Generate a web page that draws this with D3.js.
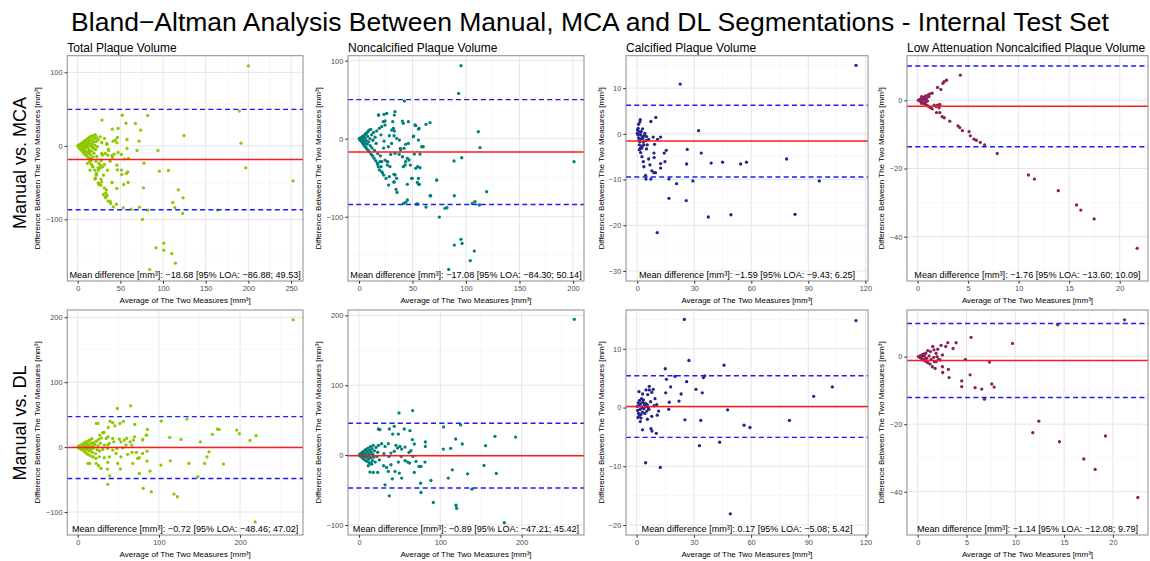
<!DOCTYPE html>
<html>
<head>
<meta charset="utf-8">
<script src="https://cdn.jsdelivr.net/npm/d3@7"></script>
<style>
  body { margin: 0; background: #fff; }
  svg  { font-family: "Liberation Sans", Arial, Helvetica, sans-serif; }
</style>
</head>
<body>
<svg id="chart"></svg>
<script>
// ── Data ────────────────────────────────────────────────────────────────────
const figTitle    = "Bland\u2212Altman Analysis Between Manual, MCA and DL Segmentations - Internal Test Set";
const rowLabels   = ["Manual vs. MCA", "Manual vs. DL"];
const panelTitles = ["Total Plaque Volume", "Noncalcified Plaque Volume",
                     "Calcified Plaque Volume", "Low Attenuation Noncalcified Plaque Volume"];

// mean difference and 95% limits of agreement, [row][column]
const meanDiff = [[-18.68, -17.08, -1.59, -1.76], [-0.72, -0.89, 0.17, -1.14]];
const loaLower = [[-86.88, -84.30, -9.43, -13.60], [-48.46, -47.21, -5.08, -12.08]];
const loaUpper = [[49.53, 50.14, 6.25, 10.09], [47.02, 45.42, 5.42, 9.79]];

const xTicks = [
  [[0, 50, 100, 150, 200, 250], [0, 50, 100, 150, 200], [0, 30, 60, 90, 120], [0, 5, 10, 15, 20]],
  [[0, 100, 200], [0, 100, 200], [0, 30, 60, 90, 120], [0, 5, 10, 15, 20]]
];
const yTicks = [
  [[-100, 0, 100], [-100, 0, 100], [-30, -20, -10, 0, 10], [-40, -20, 0]],
  [[-100, 0, 100, 200], [-100, 0, 100, 200], [-20, -10, 0, 10], [-40, -20, 0]]
];
// axis limits
const xLimits = [
  [[-12.2, 264], [-10.3, 210.3], [-5.9, 121.4], [-1.05, 22.8]],
  [[-12.8, 277.5], [-13.5, 276.7], [-5.6, 121.3], [-1.1, 23.6]]
];
const yLimits = [
  [[-183.9, 122.6], [-182.4, 106.4], [-32.2, 17.1], [-53, 13.1]],
  [[-135.4, 211.2], [-114.4, 207.6], [-21.7, 16.6], [-52.8, 13.8]]
];

// [average, difference] pairs
const tpvMca = [
  [0.3,0],[0.6,-0.8],[0.8,0.6],[1.2,-1.5],[1.5,1],[1.8,-0.3],[2.2,-3],[2.5,2],[2.8,0.5],[3.2,-4.5],
  [3.5,-1.5],[3.8,3],[4.2,1],[4.5,-6],[4.8,-2.5],[5.2,4],[5.5,0],[5.8,-8],[6.2,2],[6.5,-4],
  [6.8,5.5],[7.2,-10],[7.5,-1],[7.8,3.5],[8.2,-6],[8.5,7],[8.8,-12],[9.2,0.5],[9.5,-3],[9.8,5],
  [10.2,-8],[10.5,8.5],[10.8,-14],[11.2,2],[11.5,-1.5],[11.8,10],[12.2,-10],[12.5,-16],[12.8,4],[13.2,-5],
  [13.5,11],[13.8,-18],[14.2,7],[14.5,0],[14.8,-12],[15.2,12],[15.5,-20],[15.8,3],[16.2,-7],[16.6,13],
  [17,8],[17.4,-2],[17.8,-15],[18.2,14],[18.6,5],[19,-10],[19.5,10],[20,1],[20.5,15],[21,-5],
  [21.5,6],[22,11],[23,-1],[24,8],
  [14,-21.8],[16,-25.3],[17.9,-28.6],[19.9,-33.1],[21.8,-37.6],[20.6,-44],[24.1,-50.3],[25.3,-52],
  [27.3,-45.3],[30.1,-39.9],[26.5,-26.3],[29.3,-28.6],[24.9,-24],[26.8,-29.9],[24.1,-33.1],[29.3,-12.7],
  [27.3,-19.5],[30.1,-66.1],[32.1,-69.4],[35.6,-75.2],[38.7,-78.4],[32.9,-64],[31.2,-57.1],[34.4,1.9],
  [36.4,-6.8],[35.2,-12.7],[40.8,-15.7],[42.8,-11.2],[44.2,7.8],[45.9,4.1],[45.9,-26.3],[51.3,-33],
  [200,108.8],[189.5,47.2],[191.4,3.6],[196.9,-30],[252.5,-47.6],[124.6,14],[82,41.3],[52.3,41.7],
  [28.5,35],[67.6,30.4],[47.3,23.6],[40.6,22.7],[56.6,30.8],[73.8,21.3],[71.9,6.3],[41.4,6.3],
  [46.5,11.3],[57.8,8.6],[57.8,-3.6],[69.5,-6.3],[94.1,-6.3],[47.3,-9],[51.2,-11.8],[54.7,-17.7],
  [40.2,-13.2],[37.9,-20.9],[59.4,-17.2],[77.7,-23.6],[95.7,-34.5],[106.3,-33.6],[123.4,-70.7],[117.9,-59.9],
  [111.3,-77.1],[113.7,-83.9],[123,-92],[77,-57.1],[75.8,-100.2],[82,-87.5],[72.3,-83.4],[62.5,-86.2],
  [53.5,-84.4],[45.3,-79.4],[41.8,-83],[164,-87.5],[100.8,-132.4],[100.8,-142],[91.8,-138.8],[110.2,-146.5],
  [114.5,-159.6],[84.4,-168.3],[59,-49.9],[53.9,-52.6],[45.7,-58],[58.6,-35.4],[57,-37.6],[46.5,-32.7],
  [51.6,-39],[40.2,-49.9],[33.6,-59.9],[28.1,-49],[27,-53.5],[25,-52.6],[20.3,-45.4],[34.4,-67.6],
  [32.8,-70.7],[37.9,-75.3],[34.8,-33.1],[31.3,-25.4],[27.7,-19.5],[23.8,-29.9],[21.5,-20.9],[22.3,-14.5],
  [28.1,-10.4],[32.4,-10.4],[35.9,-4.5],[34,3.2],[28.1,4.5],[31.3,10],[26.2,12.2],[20.3,14.5],
  [14.5,12.2],[11.3,7.7],[16.4,0.9],[19.1,-3.6],[13.7,-8.2],[16,-17.2],[17.6,-28.6],[14.5,-33.1],
  [21.9,-39.9],[11.3,-24]
];

const ncpMca = [
  [0.3,0],[0.6,0.5],[1,-1],[1.3,-2],[1.5,1],[2,-3],[2.3,0],[2.6,2],[3,-5],[3.3,-1],
  [3.6,3],[4,-7],[4.3,-3],[4.6,4],[5,-9],[5.3,1],[5.6,-5],[6,6],[6.3,-11],[6.6,-2],
  [7,7],[7.3,-13],[7.6,-7],[8,3],[8.3,9],[8.6,-15],[9,-4],[9.4,11],[9.8,-17],[10.2,0],
  [10.6,-9],[11,12],[11.4,-20],[11.8,5],[12.2,-12],[12.6,-22],[13,-2],[13.5,8],[14,-25],[14.5,-15],
  [15,2],[15.5,-28],[16,-6],[16.5,10],[17,-31],[17.5,-19],[18,-36],[19,-40],[20,-22],[20.5,5],
  [22,-44],[23,-12],
  [95.3,93.6],[93.1,58.1],[42.4,48.3],[111.5,9],[113.1,-11.5],[96,-24.4],[88.8,-28.6],[201,-29.5],
  [119.3,-67.9],[72.6,-53],[66.4,-73.1],[89.1,-73.1],[108.4,-80.8],[105.9,-82.9],[112.5,-85],[80.4,-89.3],
  [75.1,-100.4],[62.6,-87.6],[53.6,-83.8],[45.2,-78.6],[41.7,-82.9],[95.3,-129],[96.3,-134.2],[89.1,-136.3],
  [107.8,-144],[104,-156.4],[83.8,-167.5],[66.4,20.5],[62.6,18.4],[56.1,13.2],[53,16.7],[51.1,3.4],
  [55.5,-1.7],[58.6,-10.3],[46.1,-6],[38.6,-12.4],[40.5,22.6],[41.4,19.7],[33.6,34.6],[33,30.3],
  [25.9,32.5],[23.4,31.2],[18.4,30.3],[24.3,17.5],[21.2,15.4],[30.5,11.1],[28.3,3.8],[32.7,3.8],
  [23.4,-3],[30.5,-6],[33.6,-18.8],[29.6,-20.1],[24.3,-27.4],[21.2,-29.5],[26.2,-29.5],[26.5,-33.8],
  [21.2,-42.3],[23.1,-46.6],[25.2,-50.9],[32.7,-45.7],[32.7,-55.1],[34.6,-65],[35.5,-68.8],[41.4,-35.9],
  [43.6,-29.5],[48,-33.8],[53,-38],[57,-37.2],[49.2,-50.9],[55.5,-50.9],[54.5,-56],[56.4,-58.5],
  [51.7,-19.7],[57,-19.7],[60,-10.3],[27.4,-10.3],[24.3,22.7],[22.7,21.8],[31.5,21.8],[32.1,13.3],
  [33,9.9],[35.2,0.5],[37.7,-1.7],[46.1,21.8],[52.3,17.6],[55.5,12.4],[50.8,2.6],[43.6,-7.2],
  [42.1,-12.3],[39,-14.5],[37.5,-20],[40.6,-23.1],[45.2,-25.1],[43.1,-33.7],[46.7,-27.3],[54.8,-35.9],
  [49.8,-50.8],[45.2,-58.5],[55.7,-58.5],[72.7,-53],[67,-73.1],[33.7,-46.5],[35.2,-50.8],[32.7,-55.9],
  [27.7,-59.4],[28.3,-48.7],[28.9,-35.9],[26.8,-29.5],[19.6,-29.5],[17.4,-32.8],[20.6,-35.9],[43.7,-81.5],
  [54.8,-83.7],[82.2,-88.5],[18.1,30.4],[19,13.3]
];

const cpMca = [
  [115.1,15],[22.6,10.9],[32.3,0.7],[33.7,-4.2],[26.3,-3.4],[26,-6.6],[38.9,-6.4],[44.9,-6.2],
  [54.4,-6.6],[57.5,-6.2],[78.6,-5.5],[95.8,-10.3],[29.3,-10.3],[20.7,-10.9],[16.7,-9.9],[16.7,-14.1],
  [25.8,-14.6],[37.4,-18.2],[49.3,-17.7],[83,-17.6],[10.5,-21.6],[9.8,3.6],[7.2,2.7],[12.3,-0.7],
  [10.7,-1.2],[8.4,-0.7],[9.1,-2.3],[15.3,-3.6],[14.2,-4.2],[14.6,-6.1],[12.3,-6.5],[12.3,-7.5],
  [8.8,-4.2],[8.9,-5.2],[7.7,-8.1],[8.8,-8.5],[9.6,-8.5],[7.2,-9.9],[4.6,-9.9],[4.4,-9.1],
  [6,-5.5],[6.7,-6.8],[3.5,-7.2],[3.2,-6.1],[2.5,-5],[1.8,-4.1],[4.9,-3.3],[6,-1.2],
  [3.9,-0.4],[1.6,3.1],[1.4,2.6],[0.7,2.1],[0.5,1.2],[2.1,0.5],[2.8,-0.6],[4.6,-1.5],
  [3.5,-2.4],[1.4,-1.7],[0.4,-0.2],[0.7,-0.9],[1.1,-2.4],[2.5,-3.1],[0,0.1],[1.8,-0.2],
  [3.2,-1.8],[4,0.1],[4.9,-0.6],[2.8,1.1],[1.9,-1.1],[1.1,-3.5],[5.3,-2.4],[0.2,0.8],
  [0.9,-1.5],[1.3,0.4],[2.4,-2.7],[3,-1],[1.6,-3.2]
];

const lanMca = [
  [4.23,7.4],[2.86,5.9],[2.63,5.5],[2.5,5],[1.97,3.8],[2.3,3.2],[1.44,2.1],[1.21,1.9],[1.05,1.6],
  [0.82,1.3],[0.66,1],[0.49,0.7],[0.33,0.4],[0.16,0.2],[0.07,0],[0.23,-0.2],[0.39,-0.5],[0.56,-0.8],
  [0.72,-1.1],[0.89,-1.4],[1.05,-1.7],[1.25,-2.1],[1.44,-2.5],[1.84,-1.8],[1.97,-1.4],[2.2,-1.2],
  [1.87,-3.6],[2.2,-3.6],[2.13,-2.2],[2.43,-4.8],[2.63,-5.1],[3.18,-6.1],[4,-7.5],[4.17,-8],
  [4.43,-8.9],[5.09,-9.2],[5.22,-10.4],[5.58,-11.4],[5.81,-11.7],[6.2,-12.3],[6.63,-13.1],[7.88,-15.6],
  [10.97,-21.9],[11.56,-23.1],[13.92,-26.5],[15.73,-30.7],[16.15,-32.2],[17.47,-34.8],[21.73,-43.4],
  [0.39,1.1],[0.56,0.1],[0.72,0.3],[0.89,0.6],[0.98,-0.2],[0.39,-0.9],[0.79,-0.4],[1.12,1.1],[1.64,-1.4]
];

const tpvDl = [
  [0.5,0],[1,1],[1.5,-1],[2,2],[2.5,-2],[3,0],[3.5,3],[4,-3],[4.5,1],[5,-4],
  [5.5,4],[6,-1],[6.5,2],[7,-5],[7.5,6],[8,0],[8.5,-7],[9,3],[9.5,-2],[10,8],
  [10.5,-9],[11,1],[11.5,5],[12,-4],[12.5,-11],[13,9],[13.5,-1],[14,3],[14.5,-6],[15,11],
  [15.5,-13],[16,0],[16.5,6],[17,-3],[17.5,13],[18,-8],[18.5,2],[19,-15],[19.5,7],[20,-1],
  [21,4],[22,-10],[23,9],[24,-4],[25,2],[26,12],[27,-6],[28,6],
  [48.8,59.5],[65.2,63.6],[22.9,36.4],[25,36.4],[39.8,40],[37.7,30.3],[45.9,32.8],[52,36.4],
  [32.4,22.6],[27.1,18.5],[29.1,14.3],[35.2,13.3],[37.3,15.9],[70.3,34.9],[85.9,27.2],[85.1,18.5],
  [79.8,10.8],[69.9,15.9],[68.7,10.8],[64.6,8.2],[66.6,3.1],[51.2,12.3],[53.3,8.2],[57.4,10.8],
  [43.1,13.3],[44.4,8.2],[39,5.7],[37,3.1],[32.8,3.1],[59.5,3.1],[55.4,-1],[48.4,-2],
  [43.1,-4.6],[37,-2],[30.9,-3.6],[47.2,-9.7],[53.3,-14.9],[61.5,-11.2],[73.8,-17.4],[75.9,-16.4],
  [80,-9.7],[85.4,-6.2],[67,-8.2],[72.3,-8.2],[39,-14.9],[32.8,-16.4],[26.6,-14.9],[22.5,-17.4],
  [18.4,-14.9],[37,-23.6],[49.3,-25.1],[67.8,-25.1],[85.4,-21.5],[102.6,-27.7],[114.1,-21.1],[127.3,11.8],
  [22.9,-25.1],[14.7,-25.1],[12.6,-25.1],[25.8,-28.7],[36.6,-33.8],[39.5,-44.2],[52.6,-33.8],[75.9,-40.5],
  [89.1,-36.9],[37,-57.4],[80.7,-63.5],[90.6,-68.8],[118.7,-72.3],[122.8,-76.5],[148,-45.7],[137,-25.1],
  [156.3,-25.1],[159.2,-14.9],[161.7,-7.2],[151,8.2],[103,40],[134.6,43.1],[165.8,19.5],[172,27.7],
  [113.3,14.9],[174.1,27.2],[195.9,26.2],[199.2,20.6],[219.7,17.5],[212.3,10.3],[179.5,-26.2],[218.5,-115.2],
  [265.5,196],[43.1,37.5],[56.3,39.6],[84.2,18.5],[80.1,11.8],[30.8,22.1],[60.4,13.4],[28.7,-32.9]
];

const ncpDl = [
  [0.5,0],[1,1],[1.5,-1],[2,2],[2.5,-2],[3,1],[3.5,-3],[4,4],[4.5,0],[5,-5],
  [5.5,3],[6,-1],[6.5,6],[7,-7],[7.5,2],[8,-3],[8.5,8],[9,0],[9.5,-9],[10,5],
  [10.5,-2],[11,10],[11.5,-6],[12,2],[12.5,-11],[13,7],[13.5,-1],[14,12],[14.5,-4],[15,4],
  [15.5,-13],[16,9],[16.5,-8],[17,1],[17.5,14],[18,-3],[19,6],[20,-10],[21,11],[22,-2],
  [23,4],[24,14],[25,-7],
  [264.8,194.3],[49.2,60.3],[66,63.6],[104.1,40.2],[125,43.1],[192.6,25.8],[167.2,26.8],[155.7,13.4],
  [127,15.8],[118.9,23],[112.7,9.6],[103.7,8.6],[153.7,-14.8],[168.9,-26.3],[133.6,-26.8],[114.8,-21.1],
  [109.8,-33],[138.9,-48.8],[88.5,-36.4],[91.4,-67.9],[119.3,-71.8],[120.1,-76.1],[75.8,-40.2],[76.2,-53.6],
  [37.3,37.3],[43.4,41.1],[55.7,37.3],[62.7,34.9],[48.4,30.1],[41.4,30.1],[23.8,37.3],[25.8,36.4],
  [65.6,22],[68,15.8],[81.6,18.7],[81.6,12.4],[81.1,-10],[73.8,-16.3],[76.2,-16.3],[70.1,-9.1],
  [68,-24.9],[59.8,-10],[62.3,-11.5],[48.4,-10],[49.6,-25.8],[52.5,-33],[44.3,-23.4],[36.1,-23.4],
  [39.3,-13.9],[30.3,-15.3],[34,-17.7],[32,-42.6],[37.3,-58.4],[41,-34],[47.5,10],[50.4,12.4],
  [52.5,8.6],[45.5,13.9],[36.1,16.3],[32,12.4],[27.9,16.3],[30.7,1.9],[36.9,-1.9],[39.3,2.9],
  [43.4,5.3],[56.6,11.5],[61.5,3.8],[63.9,6.2],[52,-1.9],[56.6,-8.1],[178.7,-96.7],[66.4,-1.9],
  [17.6,-24.9],[13.5,-24.4],[23,-24.9],[14.8,-11.5],[11.5,-15.3]
];

const cpDl = [
  [25,15],[115,14.8],[27.4,8],[45.8,7.2],[15,6.6],[15.6,4.8],[20.1,5.3],[26.2,4.4],
  [35,5.1],[35.7,5.4],[31.1,3.1],[17.8,3.5],[15.2,2.5],[23.3,2.3],[34.4,2.5],[22.2,1.1],
  [17.1,0.9],[16.8,-0.3],[47.7,-0.4],[25.3,-2.1],[33.6,-2.2],[56.3,-3],[59.4,-3.4],[80.1,-2.2],
  [92.8,1.9],[102.6,3.5],[32.9,-6.5],[43.5,-5.9],[4.7,-9.4],[12.4,-10.2],[49.1,-18.1],[10.3,-4.4],
  [7.5,-3.6],[8,-4],[7.9,-1.5],[3.1,-3.8],[1.9,-2.4],[0.7,-1.7],[5.6,-2],[10.8,-1.3],
  [11.5,-0.6],[6.6,3.6],[6.6,3],[7.9,2.6],[8.7,3.1],[5.8,2.2],[4.9,3],[1.2,2.7],
  [3.1,2.3],[9.6,1.5],[7.3,1],[10.5,0.5],[9.1,0.3],
  [0.3,0.2],[0.5,-0.5],[0.8,0.8],[1,-1],[1.2,0.3],[1.5,1.2],[1.8,-0.3],[2,0.6],[2.2,-1.2],
  [2.5,1.5],[2.8,0],[3,-0.8],[3.2,0.9],[3.5,1.3],[3.8,-0.2],[4,0.4],[4.3,-1],[4.6,0.7],
  [5,0.2],[5.3,-0.6],[5.6,0.5],[6,0],[6.4,-0.3],[2.3,-1.8],[1.4,-1.4]
];

const lanDl = [
  [21.19,10.9],[14.35,9.4],[9.71,3.9],[5.47,5.7],[3.93,4.1],[3.08,4.1],[3.62,2.4],[2.87,3],
  [2.39,3.3],[2.05,2.2],[1.67,2],[1.54,3],[1.88,1],[1.3,1.5],[1.03,1.8],[0.82,1],
  [0.58,0.7],[0.41,0.4],[0.24,0.2],[0.07,0],[0.24,-0.3],[0.41,-0.6],[0.58,-1],[0.82,-1.4],
  [1.03,-1.8],[1.26,-2.2],[1.5,-3],[1.78,-3.5],[1.88,-1.5],[2.12,-0.8],[2.53,0.5],[2.53,-3],
  [2.56,-4.7],[3.14,-3.8],[3.21,-6.2],[4.89,-0.8],[5.37,-5.4],[4.51,-7.2],[4.51,-8.9],[5.88,-9.2],
  [6.56,-9.6],[6.84,-12.6],[7.35,-1.6],[7.59,-8.1],[7.83,-9],[11.79,-22.5],[12.41,-19.1],[14.52,-25.2],
  [19.24,-23.5],[17.02,-30.3],[18.18,-33.4],[22.56,-41.7],
  [0.41,0],[0.68,0.2],[0.92,-0.5],[1.16,0.2],[1.37,-0.8],[1.64,-0.2],[1.98,0],[2.29,-1],
  [0.75,-0.6],[1.71,-1.5]
];

// ── Layout ──────────────────────────────────────────────────────────────────
const VW = 1150, VH = 561;
const colL = [67.3, 348, 626, 907];
const colR = [303, 584, 868, 1148];
const rowT = [55.7, 310];
const rowB = [281, 535];
const yTitleX = [37, 318, 601, 881];
const FONT = '"Liberation Sans", Arial, Helvetica, sans-serif';
const COLORS = ["#8DC800", "#007F7B", "#25258C", "#8C2058"];

const svg = d3.select("#chart").attr("width", VW).attr("height", VH);
svg.append("rect").attr("width", VW).attr("height", VH).attr("fill", "#fff");

svg.append("text")
  .attr("x", 590).attr("y", 31).attr("text-anchor", "middle")
  .attr("font-size", "26.5px").attr("fill", "#000").text(figTitle);

rowLabels.forEach((lbl, r) => {
  svg.append("text")
    .attr("transform", `translate(20,${r === 0 ? 163 : 423}) rotate(-90)`)
    .attr("text-anchor", "middle").attr("dy", "0.35em")
    .attr("font-size", "18px").attr("fill", "#000").text(lbl);
});

const series = [[tpvMca, ncpMca, cpMca, lanMca], [tpvDl, ncpDl, cpDl, lanDl]];
const fmt = d3.format(".2f");

// minor breaks halfway between the major ones, inside the limits
function minorBreaks(t, dom) {
  const step = t[1] - t[0];
  return d3.range(t[0] - step / 2, dom[1], step).filter(v => v >= dom[0]);
}

// ── One Bland-Altman panel ──────────────────────────────────────────────────
function drawPanel(r, c, pts) {
  const L = colL[c], R = colR[c], T = rowT[r], B = rowB[r];
  const x = d3.scaleLinear().domain(xLimits[r][c]).range([L, R]);
  const y = d3.scaleLinear().domain(yLimits[r][c]).range([B, T]);
  const xt = xTicks[r][c], yt = yTicks[r][c];
  const g = svg.append("g");

  // grid
  const grid = g.append("g");
  grid.selectAll(null).data(minorBreaks(xt, x.domain())).join("line")
    .attr("x1", d => x(d)).attr("x2", d => x(d)).attr("y1", T).attr("y2", B)
    .attr("stroke", "#F1F1F1").attr("stroke-width", 0.6);
  grid.selectAll(null).data(minorBreaks(yt, y.domain())).join("line")
    .attr("x1", L).attr("x2", R).attr("y1", d => y(d)).attr("y2", d => y(d))
    .attr("stroke", "#F1F1F1").attr("stroke-width", 0.6);
  grid.selectAll(null).data(xt).join("line")
    .attr("x1", d => x(d)).attr("x2", d => x(d)).attr("y1", T).attr("y2", B)
    .attr("stroke", "#E6E6E6").attr("stroke-width", 1);
  grid.selectAll(null).data(yt).join("line")
    .attr("x1", L).attr("x2", R).attr("y1", d => y(d)).attr("y2", d => y(d))
    .attr("stroke", "#E6E6E6").attr("stroke-width", 1);

  // points
  g.append("g").selectAll("circle")
    .data(pts)
    .join("circle")
    .attr("cx", d => x(d[0]))
    .attr("cy", d => y(d[1]))
    .attr("r", 1.65)
    .attr("fill", COLORS[c]);

  // mean and limits of agreement
  g.append("line")
    .attr("x1", L).attr("x2", R)
    .attr("y1", y(meanDiff[r][c])).attr("y2", y(meanDiff[r][c]))
    .attr("stroke", "#FF1A1A").attr("stroke-width", 1.5);
  [loaLower[r][c], loaUpper[r][c]].forEach(v => {
    g.append("line")
      .attr("x1", L).attr("x2", R).attr("y1", y(v)).attr("y2", y(v))
      .attr("stroke", "#1A1AFF").attr("stroke-width", 1.4)
      .attr("stroke-dasharray", "5 3.3");
  });

  // border
  g.append("rect")
    .attr("x", L).attr("y", T).attr("width", R - L).attr("height", B - T)
    .attr("fill", "none").attr("stroke", "#8C8C8C").attr("stroke-width", 1);

  // axes
  const ax = g.append("g").attr("transform", `translate(0,${B})`)
    .call(d3.axisBottom(x).tickValues(xt).tickSize(2.75).tickPadding(2));
  const ay = g.append("g").attr("transform", `translate(${L},0)`)
    .call(d3.axisLeft(y).tickValues(yt).tickSize(2.75).tickPadding(2));
  [ax, ay].forEach(a => {
    a.select(".domain").remove();
    a.attr("font-family", FONT).attr("font-size", 7.4).attr("color", "#333");
    a.selectAll("text").attr("fill", "#4D4D4D");
  });

  // annotation
  g.append("text")
    .attr("x", (L + R) / 2).attr("y", B - 3)
    .attr("text-anchor", "middle").attr("font-size", "9.1px").attr("fill", "#000")
    .text(`Mean difference [mm³]: ${fmt(meanDiff[r][c])} [95% LOA: ${fmt(loaLower[r][c])}; ${fmt(loaUpper[r][c])}]`);

  // axis titles
  g.append("text")
    .attr("x", (L + R) / 2).attr("y", B + 21.5)
    .attr("text-anchor", "middle").attr("font-size", "8px").attr("fill", "#000")
    .text("Average of The Two Measures [mm³]");
  g.append("text")
    .attr("transform", `translate(${yTitleX[c]},${(T + B) / 2}) rotate(-90)`)
    .attr("text-anchor", "middle").attr("dy", "0.35em")
    .attr("font-size", "8px").attr("fill", "#000")
    .text("Difference Between The Two Measures [mm³]");

  if (r === 0) {
    g.append("text")
      .attr("x", L).attr("y", 51.7)
      .attr("font-size", "12px").attr("fill", "#000")
      .text(panelTitles[c]);
  }
}

series.forEach((row, r) => row.forEach((pts, c) => drawPanel(r, c, pts)));
</script>
</body>
</html>
